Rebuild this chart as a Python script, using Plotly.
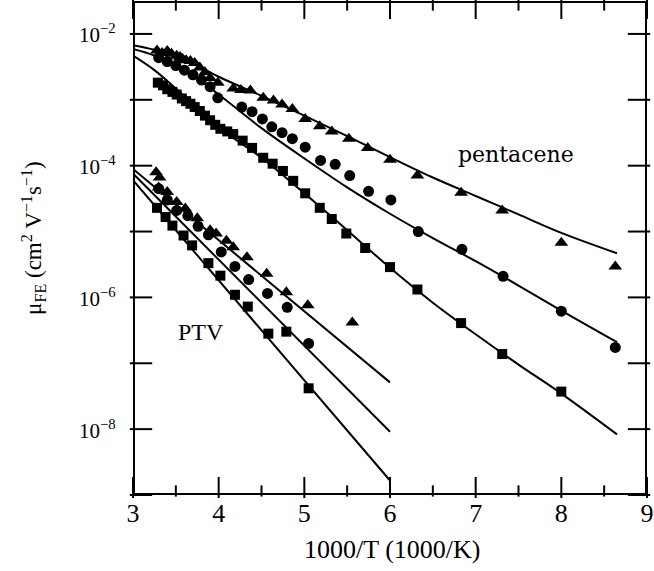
import numpy as np
import plotly.graph_objects as go

# ---------------- data (x = 1000/T, values read as log10(mu)) ----------------
pen_tri_x = [3.28, 3.34, 3.40, 3.45, 3.51, 3.55, 3.58, 3.62, 3.67, 3.72, 3.78, 3.84, 3.90, 3.99,
             4.17, 4.26, 4.37, 4.52, 4.64, 4.74, 4.86, 5.01, 5.18, 5.32, 5.52, 5.74, 6.00,
             6.32, 6.83, 7.31, 8.00, 8.63]
pen_tri_log = [-2.25, -2.29, -2.26, -2.30, -2.33, -2.35, -2.38, -2.40, -2.41, -2.44, -2.51, -2.58, -2.67, -2.74,
               -2.83, -2.85, -2.86, -2.97, -3.01, -3.07, -3.14, -3.29, -3.40, -3.48, -3.59, -3.73, -3.91,
               -4.15, -4.41, -4.68, -5.17, -5.53]

pen_cir_x = [3.30, 3.40, 3.50, 3.60, 3.70, 3.80, 3.90, 3.99, 4.27, 4.39, 4.51, 4.62, 4.74, 4.86,
             5.01, 5.19, 5.36, 5.53, 5.75, 6.01, 6.33, 6.84, 7.32, 8.00, 8.63]
pen_cir_log = [-2.36, -2.42, -2.48, -2.55, -2.62, -2.70, -2.80, -2.97, -3.11, -3.18, -3.29, -3.41, -3.50, -3.59,
               -3.72, -3.92, -3.98, -4.15, -4.39, -4.52, -5.00, -5.27, -5.68, -6.21, -6.76]

pen_sq_x = [3.29, 3.35, 3.40, 3.46, 3.51, 3.57, 3.62, 3.67, 3.72, 3.78, 3.84, 3.90, 3.96, 4.02,
            4.10, 4.17, 4.28, 4.39, 4.52, 4.63, 4.75, 4.87, 5.01, 5.18, 5.32, 5.49, 5.71, 6.00,
            6.32, 6.83, 7.31, 8.00]
pen_sq_log = [-2.74, -2.78, -2.84, -2.88, -2.92, -2.98, -3.02, -3.06, -3.11, -3.17, -3.24, -3.31, -3.38, -3.44,
              -3.48, -3.52, -3.62, -3.73, -3.88, -3.97, -4.08, -4.23, -4.42, -4.64, -4.81, -5.03, -5.25, -5.54,
              -5.88, -6.39, -6.86, -7.43]

pen_fit_x = [3.0, 3.25, 3.5, 3.75, 4.0, 4.5, 5.0, 5.5, 6.0, 6.5, 7.0, 7.5, 8.0, 8.65]
pen_fit_tri_log = [-2.17, -2.24, -2.34, -2.48, -2.65, -2.94, -3.24, -3.55, -3.87, -4.18, -4.46, -4.74, -5.02, -5.33]
pen_fit_cir_log = [-2.23, -2.33, -2.48, -2.68, -2.92, -3.43, -3.89, -4.33, -4.73, -5.10, -5.45, -5.82, -6.20, -6.68]
pen_fit_sq_log = [-2.33, -2.55, -2.83, -3.13, -3.42, -3.88, -4.42, -4.98, -5.55, -6.08, -6.56, -7.02, -7.46, -8.08]

ptv_tri_x = [3.27, 3.31, 3.30, 3.40, 3.51, 3.61, 3.75, 3.90, 3.97, 4.09, 4.17, 4.33, 4.56, 4.79, 5.04, 5.56]
ptv_tri_log = [-4.10, -4.18, -4.33, -4.40, -4.55, -4.65, -4.80, -4.98, -5.03, -5.14, -5.24, -5.39, -5.64, -5.92, -6.12, -6.38]

ptv_cir_x = [3.30, 3.40, 3.51, 3.64, 3.76, 3.88, 4.03, 4.19, 4.35, 4.57, 4.80, 5.05]
ptv_cir_log = [-4.35, -4.52, -4.68, -4.76, -4.92, -5.05, -5.31, -5.53, -5.73, -5.94, -6.15, -6.70]

ptv_sq_x = [3.28, 3.38, 3.46, 3.59, 3.69, 3.88, 4.02, 4.19, 4.34, 4.58, 4.79, 5.05]
ptv_sq_log = [-4.64, -4.78, -4.91, -5.06, -5.21, -5.48, -5.67, -5.96, -6.14, -6.55, -6.52, -7.38]

ptv_fit_x = [3.0, 6.0]
ptv_fit_tri_log = [-4.05, -7.29]
ptv_fit_cir_log = [-4.12, -8.04]
ptv_fit_sq_log = [-4.22, -8.78]

x_major_ticks = [3, 4, 5, 6, 7, 8, 9]
x_minor_ticks = [3.5, 4.5, 5.5, 6.5, 7.5, 8.5]
y_tick_exp = [-9, -8, -7, -6, -5, -4, -3, -2]
y_tick_labeled = [-8, -6, -4, -2]

SERIF = "Liberation Serif"
X_RANGE = [3, 9]
Y_LOG_RANGE = [-9, -1.5]

W, H = 654, 571
M = dict(l=133, r=7, t=1, b=76)
PLOT_W = W - M["l"] - M["r"]
PLOT_H = H - M["t"] - M["b"]
X_PER_PX = (X_RANGE[1] - X_RANGE[0]) / PLOT_W
DEC_PER_PX = (Y_LOG_RANGE[1] - Y_LOG_RANGE[0]) / PLOT_H


def v(logs):
    return np.power(10.0, np.array(logs))


fig = go.Figure()

for fx, fy, shape in [(pen_fit_x, pen_fit_tri_log, "spline"), (pen_fit_x, pen_fit_cir_log, "spline"),
                      (pen_fit_x, pen_fit_sq_log, "spline"), (ptv_fit_x, ptv_fit_tri_log, "linear"),
                      (ptv_fit_x, ptv_fit_cir_log, "linear"), (ptv_fit_x, ptv_fit_sq_log, "linear")]:
    fig.add_trace(go.Scatter(x=fx, y=v(fy), mode="lines",
                             line=dict(color="black", width=2, shape=shape),
                             showlegend=False, hoverinfo="skip"))

for px, py, sym, size in [(pen_tri_x, pen_tri_log, "triangle-up", 12), (pen_cir_x, pen_cir_log, "circle", 11),
                          (pen_sq_x, pen_sq_log, "square", 10), (ptv_tri_x, ptv_tri_log, "triangle-up", 12),
                          (ptv_cir_x, ptv_cir_log, "circle", 11), (ptv_sq_x, ptv_sq_log, "square", 10)]:
    fig.add_trace(go.Scatter(x=px, y=v(py), mode="markers",
                             marker=dict(symbol=sym, size=size, color="black", line=dict(width=0)),
                             showlegend=False))

# ---- inside tick marks drawn as line-shaped markers centred half a tick-length inside the frame ----
y_lo, y_hi = Y_LOG_RANGE
for ticks, ln in [(x_major_ticks, 15), (x_minor_ticks, 8)]:
    half = 0.5 * ln * DEC_PER_PX
    tx = list(ticks) + list(ticks)
    ty = [10.0 ** (y_lo + half)] * len(ticks) + [10.0 ** (y_hi - half)] * len(ticks)
    fig.add_trace(go.Scatter(x=tx, y=ty, mode="markers", cliponaxis=False,
                             marker=dict(symbol="line-ns-open", size=ln, color="black",
                                         line=dict(color="black", width=2)),
                             showlegend=False, hoverinfo="skip"))
half_x = 0.5 * 16 * X_PER_PX
fig.add_trace(go.Scatter(x=[X_RANGE[0] + half_x] * len(y_tick_exp) + [X_RANGE[1] - half_x] * len(y_tick_exp),
                         y=[10.0 ** e for e in y_tick_exp] * 2, mode="markers", cliponaxis=False,
                         marker=dict(symbol="line-ew-open", size=16, color="black",
                                     line=dict(color="black", width=2)),
                         showlegend=False, hoverinfo="skip"))

# frame
fig.add_trace(go.Scatter(x=[X_RANGE[0], X_RANGE[1], X_RANGE[1], X_RANGE[0], X_RANGE[0]],
                         y=[10.0 ** y_lo, 10.0 ** y_lo, 10.0 ** y_hi, 10.0 ** y_hi, 10.0 ** y_lo],
                         mode="lines", line=dict(color="black", width=4),
                         showlegend=False, hoverinfo="skip"))

fig.update_layout(
    xaxis=dict(range=X_RANGE, tickvals=x_major_ticks, ticks="", showline=False,
               showgrid=False, zeroline=False,
               tickfont=dict(family=SERIF, size=26, color="black")),
    yaxis=dict(type="log", range=Y_LOG_RANGE, ticks="", showticklabels=False,
               showline=False, showgrid=False, zeroline=False),
)

# y tick labels
for e in y_tick_labeled:
    yp = (e - y_lo) / (y_hi - y_lo)
    fig.add_annotation(x=-0.03, y=yp, xref="paper", yref="paper", showarrow=False,
                       xanchor="right", yanchor="middle",
                       text="10<sup>\u2212%d</sup>" % (-e),
                       font=dict(family=SERIF, size=21, color="black"))

fig.add_annotation(x=0.504, y=-0.11, xref="paper", yref="paper", showarrow=False,
                   xanchor="center", yanchor="middle",
                   text="1000/T (1000/K)", font=dict(family=SERIF, size=26, color="black"))
fig.add_annotation(x=-0.195, y=0.52, xref="paper", yref="paper", showarrow=False, textangle=-90,
                   xanchor="center", yanchor="middle",
                   text="\u03bc<sub>FE</sub> (cm<sup>2</sup> V<sup>\u22121</sup>s<sup>\u22121</sup>)",
                   font=dict(family=SERIF, size=23, color="black"))
fig.add_annotation(x=0.745, y=0.69, xref="paper", yref="paper", showarrow=False,
                   xanchor="center", yanchor="middle",
                   text="pentacene", font=dict(family="DejaVu Serif", size=22, color="black"))
fig.add_annotation(x=0.132, y=0.33, xref="paper", yref="paper", showarrow=False,
                   xanchor="center", yanchor="middle",
                   text="PTV", font=dict(family=SERIF, size=24, color="black"))

fig.update_layout(width=W, height=H, margin=M, paper_bgcolor="white", plot_bgcolor="white")

fig.write_html("out.html")
